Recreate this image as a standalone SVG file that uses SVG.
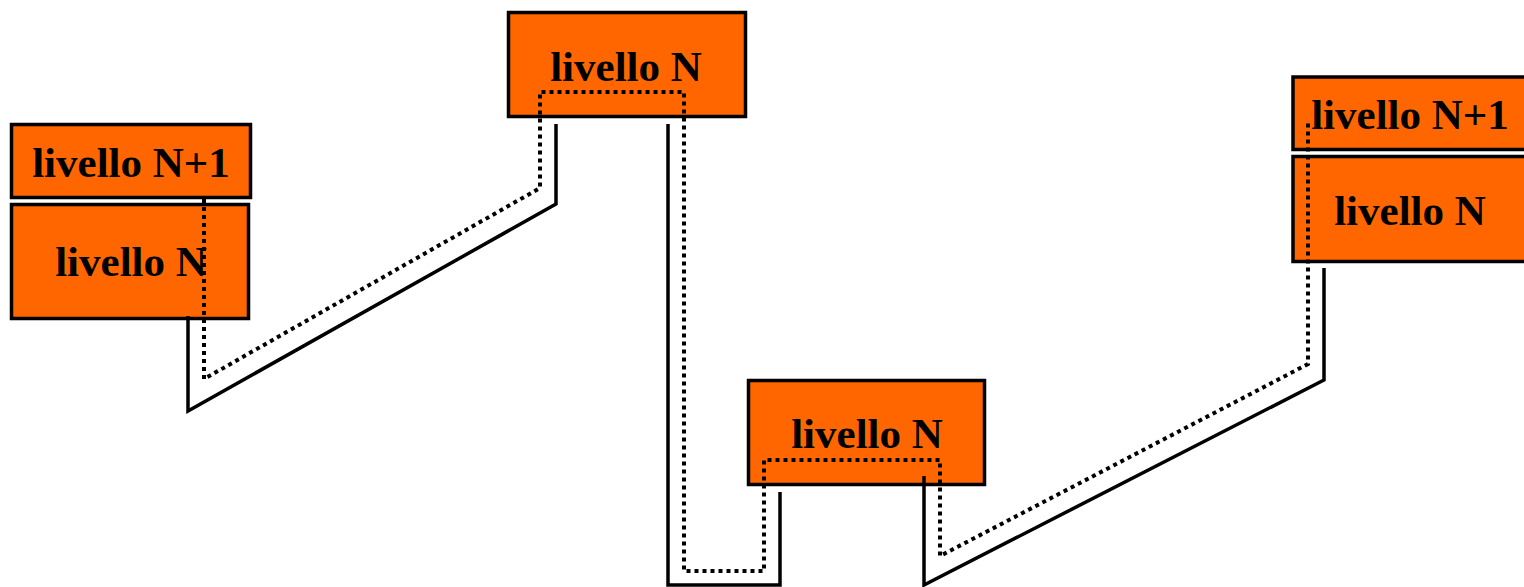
<svg xmlns="http://www.w3.org/2000/svg" width="1524" height="587" viewBox="0 0 1524 587">
  <style>
    .box { fill: #FF6600; stroke: #000000; stroke-width: 3.5; }
    .lbl { font-family: "Liberation Serif", "Times New Roman", serif; font-weight: bold; font-size: 43px; fill: #000000; text-anchor: middle; }
    .solid { fill: none; stroke: #000000; stroke-width: 3.5; stroke-linejoin: miter; }
    .dotted { fill: none; stroke: #000000; stroke-width: 4; stroke-dasharray: 4 4; }
  </style>
  <rect x="0" y="0" width="1524" height="587" fill="#FFFFFF"/>
  <g id="left-n1">
    <rect class="box" x="11.5" y="124.5" width="239" height="73"/>
    <text class="lbl" x="131" y="177">livello N+1</text>
  </g>
  <g id="left-n">
    <rect class="box" x="11.5" y="204.5" width="237" height="114"/>
    <text class="lbl" x="131" y="276">livello N</text>
  </g>
  <g id="top-n">
    <rect class="box" x="508.5" y="12.5" width="237" height="104"/>
    <text class="lbl" x="626" y="81">livello N</text>
  </g>
  <g id="middle-n">
    <rect class="box" x="748.5" y="380.5" width="236" height="104"/>
    <text class="lbl" x="867" y="448">livello N</text>
  </g>
  <g id="right-n1">
    <rect class="box" x="1293" y="77" width="240" height="72.5"/>
    <text class="lbl" x="1410" y="129">livello N+1</text>
  </g>
  <g id="right-n">
    <rect class="box" x="1293" y="156.5" width="240" height="105"/>
    <text class="lbl" x="1410" y="225">livello N</text>
  </g>
  <g id="connectors">
    <path class="solid" d="M188,316 L188,411 L556,204 L556,124"/>
    <path class="solid" d="M668,124 L668,585 L780,585 L780,492"/>
    <path class="solid" d="M924,476 L924,585 L1324,380 L1324,268"/>
    <path class="dotted" d="M204,199 L204,379 L540,188 L540,92 L684,92 L684,571 L764,571 L764,460 L940,460 L940,556 L1308,364 L1308,123"/>
  </g>
</svg>
